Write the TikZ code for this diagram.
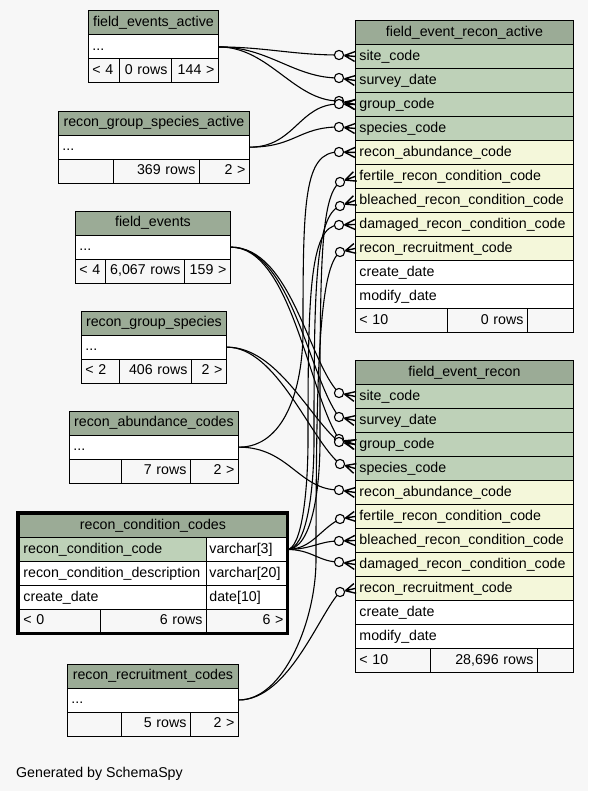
\documentclass[tikz,border=0pt]{standalone}
\usepackage{fontspec}
\setmainfont{Liberation Sans}
\usetikzlibrary{calc}
\definecolor{bg}{HTML}{F7F7F7}
\definecolor{hdr}{HTML}{9BAB96}
\definecolor{keyc}{HTML}{BED1B8}
\definecolor{fkc}{HTML}{F4F7DA}
\newcommand\tcell[9][4]{\node[cellbase, inner xsep=#1pt, fill=#7, minimum width=#5pt, minimum height=#6pt, text width=#5pt-2*#1pt, align=#8] (#2) at (#3,#4) {\mbox{#9}};}
\newcommand\fkend[2]{%
  \draw[crowln] ($(#1)!5.5pt!(#2.west)$) -- (#2.west)
                ($(#1)!5.5pt!(#2.west)$) -- ($(#2.west)!5pt!90:(#1)$)
                ($(#1)!5.5pt!(#2.west)$) -- ($(#2.west)!5pt!-90:(#1)$);
  \draw[ocirc] (#1) circle (4.6pt);}
\begin{document}
\begin{tikzpicture}[x=1pt,y=-1pt,
  cellbase/.style={draw=black, line width=0.9pt, anchor=north west, inner ysep=0pt, text height=10.5pt, text depth=3pt, font=\fontsize{14.2}{17}\selectfont},
  edge/.style={line width=1.1pt, draw=black},
  crowln/.style={line width=1.4pt, draw=black},
  ocirc/.style={line width=1.1pt, draw=black, fill=bg}]
\fill[bg] (0,0) rectangle (588,791);
\useasboundingbox (0,0) rectangle (588,791);

% field_events_active
\tcell{fea-h}{88}{10.5}{130}{24}{hdr}{center}{field\_events\_active}
\tcell{fea-d}{88}{34.5}{130}{24}{white}{left}{...}
\tcell{fea-f1}{88}{58.5}{31}{24}{bg}{left}{< 4}
\tcell{fea-f2}{119}{58.5}{52}{24}{bg}{right}{0 rows}
\tcell{fea-f3}{171}{58.5}{47}{24}{bg}{right}{144 >}

% recon_group_species_active
\tcell{rgsa-h}{58}{110.7}{191}{24}{hdr}{center}{recon\_group\_species\_active}
\tcell{rgsa-d}{58}{134.7}{191}{24}{white}{left}{...}
\tcell{rgsa-f1}{58}{158.7}{55}{24}{bg}{left}{}
\tcell{rgsa-f2}{113}{158.7}{86}{24}{bg}{right}{369 rows}
\tcell{rgsa-f3}{199}{158.7}{50}{24}{bg}{right}{2 >}

% field_events
\tcell{fe-h}{75}{210.7}{155}{24}{hdr}{center}{field\_events}
\tcell{fe-d}{75}{234.7}{155}{24}{white}{left}{...}
\tcell{fe-f1}{75}{258.7}{30}{24}{bg}{left}{< 4}
\tcell{fe-f2}{105}{258.7}{79}{24}{bg}{right}{6,067 rows}
\tcell{fe-f3}{184}{258.7}{46}{24}{bg}{right}{159 >}

% recon_group_species
\tcell{rgs-h}{81}{310.7}{145}{24}{hdr}{center}{recon\_group\_species}
\tcell{rgs-d}{81}{334.7}{145}{24}{white}{left}{...}
\tcell{rgs-f1}{81}{358.7}{38}{24}{bg}{left}{< 2}
\tcell{rgs-f2}{119}{358.7}{72}{24}{bg}{right}{406 rows}
\tcell{rgs-f3}{191}{358.7}{35}{24}{bg}{right}{2 >}

% recon_abundance_codes
\tcell{rac-h}{69}{410.7}{169}{24}{hdr}{center}{recon\_abundance\_codes}
\tcell{rac-d}{69}{434.7}{169}{24}{white}{left}{...}
\tcell{rac-f1}{69}{458.7}{52}{24}{bg}{left}{}
\tcell{rac-f2}{121}{458.7}{69}{24}{bg}{right}{7 rows}
\tcell{rac-f3}{190}{458.7}{48}{24}{bg}{right}{2 >}

% recon_recruitment_codes
\tcell{rrc-h}{67}{663.5}{171}{24}{hdr}{center}{recon\_recruitment\_codes}
\tcell{rrc-d}{67}{687.5}{171}{24}{white}{left}{...}
\tcell{rrc-f1}{67}{711.5}{54}{24}{bg}{left}{}
\tcell{rrc-f2}{121}{711.5}{69}{24}{bg}{right}{5 rows}
\tcell{rrc-f3}{190}{711.5}{48}{24}{bg}{right}{2 >}

% recon_condition_codes
\tcell{rcc-h}{19}{513.5}{267}{23.5}{hdr}{center}{recon\_condition\_codes}
\tcell{rcc-n1}{19}{537}{187}{24}{keyc}{left}{recon\_condition\_code}
\tcell[3]{rcc-t1}{206}{537}{80}{24}{white}{left}{varchar[3]}
\tcell{rcc-n2}{19}{561}{187}{24}{white}{left}{recon\_condition\_description}
\tcell[3]{rcc-t2}{206}{561}{80}{24}{white}{left}{varchar[20]}
\tcell{rcc-n3}{19}{585}{187}{24}{white}{left}{create\_date}
\tcell[3]{rcc-t3}{206}{585}{80}{24}{white}{left}{date[10]}
\tcell{rcc-f1}{19}{609}{81}{23.5}{bg}{left}{< 0}
\tcell{rcc-f2}{100}{609}{106}{23.5}{bg}{right}{6 rows}
\tcell[3]{rcc-f3}{206}{609}{80}{23.5}{bg}{right}{6 >}
\draw[line width=3pt] (17.5,512.5) rectangle (287.5,633.5);

% field_event_recon_active
\tcell{fera-h}{355}{20}{218}{24}{hdr}{center}{field\_event\_recon\_active}
\tcell{fera-site}{355}{44}{218}{24}{keyc}{left}{site\_code}
\tcell{fera-surv}{355}{68}{218}{24}{keyc}{left}{survey\_date}
\tcell{fera-grp}{355}{92}{218}{24}{keyc}{left}{group\_code}
\tcell{fera-spec}{355}{116}{218}{24}{keyc}{left}{species\_code}
\tcell{fera-abun}{355}{140}{218}{24}{fkc}{left}{recon\_abundance\_code}
\tcell{fera-fert}{355}{164}{218}{24}{fkc}{left}{fertile\_recon\_condition\_code}
\tcell{fera-blea}{355}{188}{218}{24}{fkc}{left}{bleached\_recon\_condition\_code}
\tcell{fera-dama}{355}{212}{218}{24}{fkc}{left}{damaged\_recon\_condition\_code}
\tcell{fera-recr}{355}{236}{218}{24}{fkc}{left}{recon\_recruitment\_code}
\tcell{fera-crea}{355}{260}{218}{24}{white}{left}{create\_date}
\tcell{fera-modi}{355}{284}{218}{24}{white}{left}{modify\_date}
\tcell{fera-f1}{355}{308}{92}{24}{bg}{left}{< 10}
\tcell{fera-f2}{447}{308}{80}{24}{bg}{right}{0 rows}
\tcell{fera-f3}{527}{308}{46}{24}{bg}{right}{}

% field_event_recon
\tcell{fer-h}{355}{360}{218}{24}{hdr}{center}{field\_event\_recon}
\tcell{fer-site}{355}{384}{218}{24}{keyc}{left}{site\_code}
\tcell{fer-surv}{355}{408}{218}{24}{keyc}{left}{survey\_date}
\tcell{fer-grp}{355}{432}{218}{24}{keyc}{left}{group\_code}
\tcell{fer-spec}{355}{456}{218}{24}{keyc}{left}{species\_code}
\tcell{fer-abun}{355}{480}{218}{24}{fkc}{left}{recon\_abundance\_code}
\tcell{fer-fert}{355}{504}{218}{24}{fkc}{left}{fertile\_recon\_condition\_code}
\tcell{fer-blea}{355}{528}{218}{24}{fkc}{left}{bleached\_recon\_condition\_code}
\tcell{fer-dama}{355}{552}{218}{24}{fkc}{left}{damaged\_recon\_condition\_code}
\tcell{fer-recr}{355}{576}{218}{24}{fkc}{left}{recon\_recruitment\_code}
\tcell{fer-crea}{355}{600}{218}{24}{white}{left}{create\_date}
\tcell{fer-modi}{355}{624}{218}{24}{white}{left}{modify\_date}
\tcell{fer-f1}{355}{648}{75}{24}{bg}{left}{< 10}
\tcell{fer-f2}{430}{648}{107}{24}{bg}{right}{28,696 rows}
\tcell{fer-f3}{537}{648}{36}{24}{bg}{right}{}

\node[anchor=base west, inner sep=0pt, font=\fontsize{14.2}{17}\selectfont] (gen) at (16,777) {Generated by SchemaSpy};

% circle positions
\coordinate (a-site) at (339,55);
\coordinate (a-surv) at (339,78);
\coordinate (a-grp1) at (339,101);
\coordinate (a-grp2) at (339,104);
\coordinate (a-spec) at (339,127);
\coordinate (a-abun) at (339,152);
\coordinate (a-fert) at (340,182);
\coordinate (a-blea) at (340,206);
\coordinate (a-dama) at (339,225);
\coordinate (a-recr) at (340,252);
\coordinate (r-site) at (339,393);
\coordinate (r-surv) at (339,417);
\coordinate (r-grp1) at (339,439);
\coordinate (r-grp2) at (339,442);
\coordinate (r-spec) at (340,464);
\coordinate (r-abun) at (339,490);
\coordinate (r-fert) at (340,519);
\coordinate (r-blea) at (339,541);
\coordinate (r-dama) at (339,562);
\coordinate (r-recr) at (340,592);
% waypoints
\coordinate (w-aabun) at (303,330);
\coordinate (w-afert) at (320,440);
\coordinate (w-ablea) at (314,440);
\coordinate (w-adama) at (308,440);
\coordinate (w-arecr) at (316,560);

% connectors
\draw[edge] (fea-d.east) .. controls +(45,0) and +(-45,0) .. (a-site);
\draw[edge] (fea-d.east) .. controls +(50,0) and +(-45,0) .. (a-surv);
\draw[edge] (fea-d.east) .. controls +(50,0) and +(-45,0) .. (a-grp1);
\draw[edge] (rgsa-d.east) .. controls +(45,0) and +(-40,0) .. (a-grp2);
\draw[edge] (rgsa-d.east) .. controls +(45,0) and +(-40,0) .. (a-spec);

\draw[edge] (fe-d.east) .. controls +(60,0) and +(-30,-30) .. (r-site);
\draw[edge] (fe-d.east) .. controls +(60,0) and +(-30,-40) .. (r-surv);
\draw[edge] (fe-d.east) .. controls +(60,0) and +(-30,-45) .. (r-grp1);
\draw[edge] (rgs-d.east) .. controls +(50,0) and +(-30,-25) .. (r-grp2);
\draw[edge] (rgs-d.east) .. controls +(50,0) and +(-30,-25) .. (r-spec);

\draw[edge] (rac-d.east) .. controls +(50,0) and +(-40,0) .. (r-abun);
\draw[edge] (rac-d.east) .. controls +(45,0) and +(0,60) .. (w-aabun) .. controls +(0,-130) and +(-35,0) .. (a-abun);

\draw[edge] (rcc-t1.east) .. controls +(25,0) and +(-20,10) .. (r-fert);
\draw[edge] (rcc-t1.east) .. controls +(25,0) and +(-20,0) .. (r-blea);
\draw[edge] (rcc-t1.east) .. controls +(25,0) and +(-20,0) .. (r-dama);
\draw[edge] (rcc-t1.east) .. controls +(25,0) and +(0,50) .. (w-afert) .. controls +(0,-170) and +(-20,15) .. (a-fert);
\draw[edge] (rcc-t1.east) .. controls +(20,0) and +(0,50) .. (w-ablea) .. controls +(0,-150) and +(-25,10) .. (a-blea);
\draw[edge] (rcc-t1.east) .. controls +(15,0) and +(0,50) .. (w-adama) .. controls +(0,-140) and +(-30,0) .. (a-dama);

\draw[edge] (rrc-d.east) .. controls +(50,0) and +(-20,20) .. (r-recr);
\draw[edge] (rrc-d.east) .. controls +(45,0) and +(0,60) .. (w-arecr) .. controls +(0,-200) and +(-20,15) .. (a-recr);

% crow's feet and circles
\fkend{a-site}{fera-site}
\fkend{a-surv}{fera-surv}
\fkend{a-grp1}{fera-grp}
\fkend{a-grp2}{fera-grp}
\fkend{a-spec}{fera-spec}
\fkend{a-abun}{fera-abun}
\fkend{a-fert}{fera-fert}
\fkend{a-blea}{fera-blea}
\fkend{a-dama}{fera-dama}
\fkend{a-recr}{fera-recr}
\fkend{r-site}{fer-site}
\fkend{r-surv}{fer-surv}
\fkend{r-grp1}{fer-grp}
\fkend{r-grp2}{fer-grp}
\fkend{r-spec}{fer-spec}
\fkend{r-abun}{fer-abun}
\fkend{r-fert}{fer-fert}
\fkend{r-blea}{fer-blea}
\fkend{r-dama}{fer-dama}
\fkend{r-recr}{fer-recr}
\end{tikzpicture}
\end{document}
